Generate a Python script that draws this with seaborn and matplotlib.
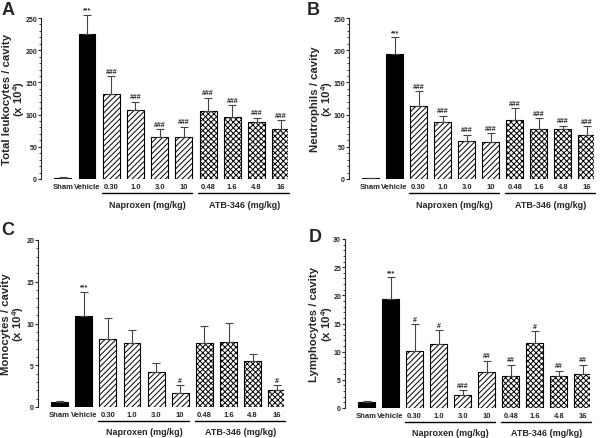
import numpy as np
import pandas as pd
import matplotlib
matplotlib.use('Agg')
import matplotlib.pyplot as plt
import seaborn as sns

# --- data ---
groups = ['Sham', 'Vehicle', '0.30', '1.0', '3.0', '10', '0.48', '1.6', '4.8', '16']
kind = ['ctrl', 'ctrl', 'nap', 'nap', 'nap', 'nap', 'atb', 'atb', 'atb', 'atb']

leuko_mean = [2, 225, 132, 107, 65, 65, 105, 97, 88, 77]
leuko_sem = [0.8, 30, 28, 13, 12, 16, 21, 18, 7, 14]
leuko_sig = ['', '***', '###', '###', '###', '###', '###', '###', '###', '###']

neut_mean = [1, 194, 113, 88, 59, 58, 92, 77, 77, 69]
neut_sem = [0.5, 26, 23, 10, 10, 13, 18, 17, 6, 13]
neut_sig = ['', '***', '###', '###', '###', '###', '###', '###', '###', '###']

mono_mean = [0.6, 10.9, 8.2, 7.7, 4.2, 1.7, 7.7, 7.8, 5.5, 2.0]
mono_sem = [0.1, 2.9, 2.5, 1.5, 1.1, 0.9, 2.0, 2.3, 0.8, 0.6]
mono_sig = ['', '***', '', '', '', '#', '', '', '', '#']

lymph_mean = [1.0, 19.4, 10.1, 11.3, 2.3, 6.4, 5.6, 11.6, 5.6, 6.1]
lymph_sem = [0.3, 3.8, 4.8, 2.5, 0.9, 2.0, 2.1, 2.0, 1.0, 1.6]
lymph_sig = ['', '***', '#', '#', '###', '##', '##', '#', '##', '##']

group_names = ['Naproxen (mg/kg)', 'ATB-346 (mg/kg)']
unit_label = '(x 10$^4$)'

sns.set_style('ticks')
plt.rcParams['font.family'] = ['Liberation Sans', 'DejaVu Sans']
plt.rcParams['font.weight'] = 'bold'
plt.rcParams['mathtext.fontset'] = 'custom'
plt.rcParams['mathtext.rm'] = 'Liberation Sans:bold'
plt.rcParams['mathtext.bf'] = 'Liberation Sans:bold'
plt.rcParams['mathtext.default'] = 'bf'
plt.rcParams['hatch.linewidth'] = 0.7

fig = plt.figure(figsize=(6, 4.39), dpi=100)
W, H = 600, 439

# letter position, axes box (spine x, top, bottom, width) and y-label offsets, in pixels
panels = [
    ('A', (2, 2), (41, 19, 180, 247), (34, 22), leuko_mean, leuko_sem, leuko_sig,
     'Total leukocytes / cavity', 250, 50),
    ('B', (307, 2), (349, 19, 180, 245), (34, 22), neut_mean, neut_sem, neut_sig,
     'Neutrophils / cavity', 250, 50),
    ('C', (1, 222), (38, 241, 408, 246), (32, 20), mono_mean, mono_sem, mono_sig,
     'Monocytes / cavity', 20, 5),
    ('D', (309, 229), (345, 240, 409, 245), (31, 18), lymph_mean, lymph_sem, lymph_sig,
     'Lymphocytes / cavity', 30, 5),
]

for letter, lpos, box, loff, means, sems, sig, ylab, ymax, ystep in panels:
    left, top, bottom, width = box
    hpx = bottom - top
    ax = fig.add_axes([left / W, 1 - bottom / H, width / W, hpx / H])

    df = pd.DataFrame({'group': groups, 'value': means})
    sns.barplot(data=df, x='group', y='value', order=groups, ax=ax,
                color='white', width=0.7, errorbar=None, linewidth=0.8,
                edgecolor='black', saturation=1)
    for p, k in zip(ax.patches, kind):
        if k == 'ctrl':
            p.set_facecolor('black')
        elif k == 'nap':
            p.set_facecolor('white')
            p.set_hatch('//////')
        else:
            p.set_facecolor('white')
            p.set_hatch('xxxxxx')
    x = np.arange(len(groups))
    ax.errorbar(x, means, yerr=[np.zeros(len(sems)), sems], fmt='none',
                ecolor='#444444', elinewidth=0.8, capsize=3, capthick=0.8,
                clip_on=False)
    for xi, m, s, t in zip(x, means, sems, sig):
        if t:
            ax.annotate(t, (xi, m + s), xytext=(0, 1), textcoords='offset points',
                        ha='center', va='bottom', fontsize=5, fontweight='bold',
                        annotation_clip=False)
    ax.set_xlim(-0.9, 9.3)
    ax.set_ylim(0, ymax)
    ax.set_yticks(np.arange(0, ymax + 0.1, ystep))
    ax.set_yticks(np.arange(0, ymax + 0.1, ystep / 5), minor=True)
    ax.tick_params(axis='y', which='minor', length=1.5, width=0.6)
    ax.tick_params(axis='y', which='major', labelsize=5, length=2, width=0.8, pad=0.8)
    ax.tick_params(axis='x', labelsize=5.5, length=0, pad=3)
    for lbl in ax.get_xticklabels() + ax.get_yticklabels():
        lbl.set_fontweight('bold')
    ax.set_xlabel('')
    ax.set_ylabel('')
    for side in ['top', 'right', 'bottom']:
        ax.spines[side].set_visible(False)
    ax.spines['left'].set_linewidth(0.8)

    # two-line y label, placed by hand
    ymid = 1 - (top + bottom) / 2 / H
    fig.text((left - loff[0]) / W, ymid, ylab, rotation=90, ha='center',
             va='center', fontsize=8.2, fontweight='bold')
    fig.text((left - loff[1]) / W, ymid, unit_label, rotation=90, ha='center',
             va='center', fontsize=8.2, fontweight='bold')

    # group lines and labels below the axis
    trans = ax.get_xaxis_transform()
    for (a, b), name in zip([(2, 5), (6, 9)], group_names):
        ax.plot([a - 0.4, b + 0.35], [-14 / hpx, -14 / hpx], color='black', lw=1,
                transform=trans, clip_on=False)
        ax.text((a + b) / 2, -25 / hpx, name, transform=trans, ha='center',
                va='center', fontsize=6.5, fontweight='bold')

    fig.text(lpos[0] / W, 1 - lpos[1] / H, letter, fontsize=13,
             fontweight='bold', ha='left', va='top')

fig.savefig('out.png', dpi=100)
